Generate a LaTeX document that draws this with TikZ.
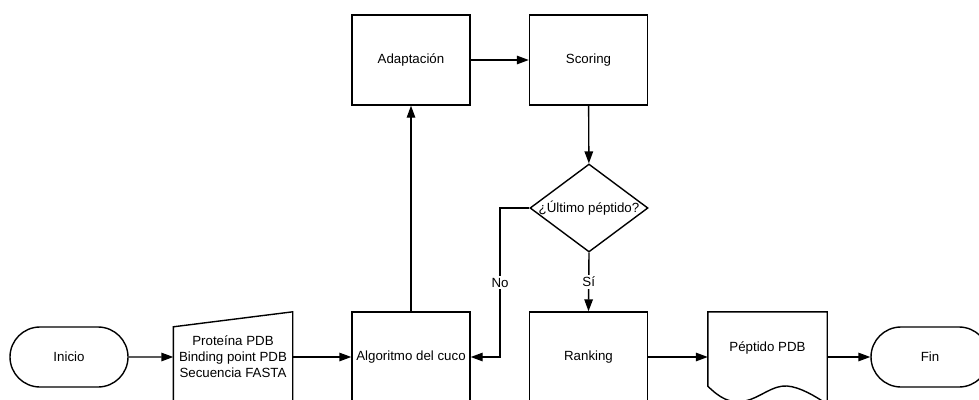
\documentclass[tikz,border=0pt]{standalone}
\usepackage{fontspec}
\setmainfont{Liberation Sans}
\usetikzlibrary{shapes.misc,shapes.geometric,arrows.meta}
\begin{document}
\begin{tikzpicture}[x=1pt,y=-1pt,
  every node/.style={font=\fontsize{13.3}{16}\selectfont, inner sep=0pt},
  ln/.style={line width=1.4pt, line join=miter},
  arr/.style={line width=1.4pt, -{Triangle[length=12pt,width=8.5pt]}},
  proc/.style={draw, line width=1.4pt, minimum width=118pt, minimum height=90pt},
  term/.style={draw, line width=1.4pt, rounded rectangle, minimum width=118pt, minimum height=60pt},
  ghost/.style={minimum width=119pt, minimum height=90pt},
  lbl/.style={fill=white, inner sep=2pt}
]
\useasboundingbox (0,0) rectangle (979,399);

% nodes
\node[term] (ini) at (69,357) {Inicio};
\node[ghost, align=center] (inp) at (233,357) {Proteína PDB\\Binding point PDB\\Secuencia FASTA};
\draw[ln] (inp.south west) -- ([yshift=-15pt]inp.north west) -- (inp.north east) -- (inp.south east);
\node[proc] (alg) at (411,357) {Algoritmo del cuco};
\node[proc] (ada) at (411,60) {Adaptación};
\node[proc] (sco) at (588.5,60) {Scoring};
\node[draw, line width=1.4pt, diamond, minimum width=118pt, minimum height=88pt] (dec) at (589,208) {};
\node (dect) at (dec.center) {¿Último péptido?};
\node[proc] (ran) at (588.5,357) {Ranking};
\node[ghost] (doc) at (767.5,357) {};
\node (doct) at (767.5,348) {Péptido PDB};
\draw[ln] ([yshift=16pt]doc.south west) -- (doc.north west) -- (doc.north east) -- ([yshift=-2pt]doc.south east)
  .. controls (815,396) and (800,387) .. (787,386)
  .. controls (772,385) and (760,398) .. (745,401)
  .. controls (730,404) and (720,398) .. ([yshift=16pt]doc.south west) -- cycle;
\node[term] (fin) at (930,357) {Fin};

% connectors
\draw[arr] (ini) -- (inp);
\draw[arr] (inp) -- (alg);
\draw[arr] (alg) -- (ada);
\draw[arr] (ada) -- (sco);
\draw[arr] (sco) -- (dec);
\draw[arr] (dec.south) -- node[lbl] {Sí} (ran.north);
\coordinate (nb) at (500,208);
\draw[arr] (dec.west) -- (nb) -- node[lbl] {No} (nb |- alg) -- (alg.east);
\draw[arr] (ran) -- (doc);
\draw[arr] (doc) -- (fin);
\end{tikzpicture}
\end{document}
